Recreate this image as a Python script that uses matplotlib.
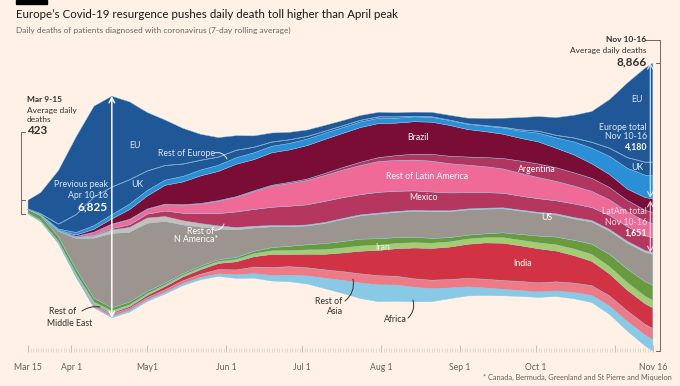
import numpy as np
import pandas as pd
import matplotlib.pyplot as plt
from matplotlib.patches import FancyArrowPatch

plt.rcParams['font.family'] = ['Lato', 'DejaVu Sans']

# weekly points (7-day rolling average of daily deaths)
dates = pd.DatetimeIndex(['2020-03-15']).append(
    pd.date_range('2020-03-20', '2020-11-13', freq='7D')).append(pd.DatetimeIndex(['2020-11-16']))

eu = [275, 650, 1650, 2400, 2800, 2800, 2400, 1800, 1400, 1100, 800, 600, 450, 350, 280, 230, 200, 180, 160,
      150, 140, 130, 130, 140, 150, 180, 220, 280, 380, 450, 550, 700, 950, 1500, 2300, 2900, 3050]
uk = [5, 25, 150, 550, 880, 850, 750, 600, 450, 380, 300, 250, 230, 170, 130, 110, 80, 60, 55,
      50, 45, 40, 15, 12, 10, 10, 12, 20, 40, 60, 75, 120, 180, 250, 330, 400, 420]
rest_europe = [5, 10, 40, 80, 110, 130, 170, 170, 160, 170, 180, 190, 200, 210, 200, 200, 200, 190, 180,
               170, 160, 150, 150, 150, 150, 160, 170, 190, 220, 270, 320, 400, 480, 560, 640, 690, 710]
brazil = [0, 1, 10, 40, 90, 160, 300, 400, 580, 700, 850, 900, 1000, 960, 1000, 1000, 1030, 1050, 1050,
          1070, 1050, 1000, 1000, 990, 950, 850, 800, 750, 700, 680, 600, 550, 450, 400, 350, 390, 420]
argentina = [0, 0, 1, 2, 5, 8, 8, 10, 12, 15, 18, 20, 20, 25, 30, 35, 45, 60, 80,
             100, 120, 150, 180, 210, 230, 250, 280, 320, 380, 420, 420, 410, 400, 380, 350, 340, 340]
rest_latam = [0, 2, 10, 40, 100, 130, 160, 150, 200, 250, 300, 380, 450, 550, 650, 700, 750, 800, 850,
              900, 950, 950, 950, 950, 900, 850, 800, 750, 700, 650, 600, 550, 500, 480, 460, 450, 445]
mexico = [0, 0, 2, 5, 20, 40, 80, 120, 170, 230, 300, 380, 480, 520, 560, 600, 620, 650, 640,
          620, 640, 620, 600, 580, 550, 500, 480, 450, 430, 420, 400, 420, 400, 430, 450, 450, 446]
rest_n_america = [0, 1, 5, 20, 60, 110, 150, 160, 150, 130, 110, 90, 70, 50, 40, 35, 30, 30, 30,
                  30, 28, 28, 28, 28, 28, 28, 28, 28, 30, 30, 35, 40, 45, 50, 55, 60, 65]
us = [5, 25, 170, 950, 1850, 2287, 2150, 2100, 1900, 1500, 1200, 950, 850, 720, 640, 600, 580, 620, 680,
      720, 760, 780, 800, 820, 800, 780, 760, 740, 720, 700, 680, 660, 680, 720, 800, 900, 950]
iran = [105, 140, 140, 140, 120, 95, 85, 70, 55, 50, 55, 55, 65, 75, 100, 130, 160, 190, 200,
        210, 200, 180, 170, 150, 130, 120, 120, 150, 180, 210, 240, 270, 320, 380, 420, 450, 460]
rest_middle_east = [8, 10, 30, 50, 60, 60, 55, 50, 50, 50, 55, 60, 70, 90, 110, 120, 130, 140, 150,
                    160, 160, 160, 160, 160, 160, 160, 160, 170, 170, 180, 190, 200, 210, 220, 230, 230, 230]
india = [0, 1, 3, 5, 25, 35, 50, 70, 100, 120, 140, 190, 250, 320, 400, 380, 420, 480, 580,
         700, 780, 850, 950, 980, 1000, 1050, 1120, 1150, 1100, 1050, 950, 850, 750, 680, 640, 640, 640]
rest_asia = [20, 20, 30, 40, 60, 80, 70, 70, 80, 90, 100, 130, 150, 200, 250, 260, 250, 260, 270,
             280, 280, 270, 260, 260, 260, 260, 270, 270, 280, 280, 280, 290, 300, 310, 320, 330, 345]
africa = [0, 3, 5, 10, 30, 40, 50, 50, 50, 60, 70, 80, 110, 140, 170, 200, 250, 320, 400,
          480, 520, 500, 450, 400, 330, 280, 230, 200, 180, 170, 170, 190, 220, 260, 300, 330, 345]

# bottom to top
series = [africa, rest_asia, india, rest_middle_east, iran, us, rest_n_america,
          mexico, rest_latam, argentina, brazil, rest_europe, uk, eu]
colors = ['#88c9e6', '#ee7a86', '#d23344', '#a6cd6a', '#6a9a3c', '#9c948f', '#cbbdb4',
          '#b5375f', '#f06a98', '#b0355f', '#7a0d36', '#2a8fd6', '#1f5797', '#1f5797']

tick_days = [0, 17, 47, 78, 108, 139, 170, 200, 246]
tick_labels = ['Mar 15', 'Apr 1', 'May1', 'Jun 1', 'Jul 1', 'Aug 1', 'Sep 1', 'Oct 1', 'Nov 16']

W, H = 680, 386
X0, PPD = 28, 2.54      # pixel of Mar 15, pixels per day
YC, DPP = 207, 30.8     # pixel of the stream centre, deaths per pixel

def dx(px):
    return (px - X0) / PPD

def dy(py):
    return (YC - py) * DPP

bg = '#fff1e5'
fig = plt.figure(figsize=(W / 100, H / 100), dpi=100, facecolor=bg)
ax = fig.add_axes([0, 0, 1, 1], facecolor=bg)

days = (dates - dates[0]).days.values.astype(float)
vals = np.array(series, dtype=float)
ax.stackplot(days, vals, colors=colors, baseline='sym', linewidth=0.3, edgecolors=colors)

total = vals.sum(axis=0)
top = total / 2
# thin line between EU and UK
ax.plot(days, top - np.array(eu), color='#7ea6d1', lw=0.6)

ax.set_xlim(dx(0), dx(W))
ax.set_ylim(dy(H), dy(0))

# x axis: daily ticks
ax.spines['bottom'].set_position(('data', dy(352)))
for s in ['top', 'left', 'right', 'bottom']:
    ax.spines[s].set_visible(False)
ax.yaxis.set_visible(False)
ax.set_xticks(tick_days + [231])
ax.set_xticklabels(tick_labels + [''])
ax.set_xticks(np.arange(0, 247), minor=True)
ax.tick_params(axis='x', which='major', direction='in', length=5, width=0.6, color='#bdb3aa',
               labelsize=6.2, labelcolor='#66605c', pad=8)
ax.tick_params(axis='x', which='minor', direction='in', length=3, width=0.4, color='#cfc6bd')

def arrow(x, y1, y2, color, lw=1.0):
    ax.add_patch(FancyArrowPatch((x, y1), (x, y2), arrowstyle='<->,head_length=0.4,head_width=0.22',
                                 mutation_scale=9, color=color, lw=lw, shrinkA=0, shrinkB=0, zorder=5))

# peak arrow (Apr 10-16): highest point of the first wave
peak = int(np.argmax(total[:15]))
arrow(days[peak], -top[peak], top[peak], 'white', 1.1)

# right arrows: Europe total and LatAm total
europe_total = eu[-1] + uk[-1] + rest_europe[-1]
latam_total = brazil[-1] + argentina[-1] + rest_latam[-1] + mexico[-1]
xa = days[-1] - 1.0
arrow(xa, top[-1] - europe_total + 30, top[-1], '#d5e8f7', 0.8)
y_la = top[-1] - europe_total - 60
arrow(xa, y_la - latam_total + 60, y_la, '#f7d3e0', 0.8)

# brackets
bc = '#6e6661'
xr = dx(660)
ax.plot([dx(645), xr, xr], [dy(40), dy(40), -top[-1]], color=bc, lw=0.7)
ax.plot([dx(656), xr], [top[-1], top[-1]], color=bc, lw=0.7)
ax.plot([dx(656), xr], [-top[-1], -top[-1]], color=bc, lw=0.7)
xl = dx(21)
ax.plot([dx(25), xl, xl, dx(25)], [dy(132), dy(132), -top[0], -top[0]], color=bc, lw=0.7)
ax.plot([xl, dx(25)], [top[0], top[0]], color=bc, lw=0.7)

def T(x, y, s, **kw):
    kw.setdefault('va', 'center')
    kw.setdefault('fontsize', 6.3)
    fig.text(x / W, 1 - y / H, s, **kw)

def leader(x1, y1, x2, y2, rad=0.3, color='white'):
    ax.annotate('', xy=(x2, H - y2), xytext=(x1, H - y1), xycoords='figure pixels',
                arrowprops=dict(arrowstyle='-', connectionstyle='arc3,rad=%s' % rad, color=color, lw=0.7,
                                shrinkA=0, shrinkB=0))

# header
fig.patches.append(plt.Rectangle((16 / W, 1 - 4 / H), 31 / W, 4 / H, transform=fig.transFigure,
                                 color='#000000'))
T(16, 15, "Europe\u2019s Covid-19 resurgence pushes daily death toll higher than April peak",
  fontsize=8.3, color='#1a1816')
T(16, 30, 'Daily deaths of patients diagnosed with coronavirus (7-day rolling average)',
  fontsize=6.0, color='#6b6560')

# left annotation
dark = '#33302e'
T(27, 100, 'Mar 9-15', fontweight='bold', color=dark, fontsize=6)
T(27, 110, 'Average daily', color=dark, fontsize=6)
T(27, 119, 'deaths', color=dark, fontsize=6)
T(27, 131, '423', fontweight='bold', color=dark, fontsize=8.5)

# peak annotation
T(108, 185, 'Previous peak', color='#dde9f5', ha='right')
T(108, 195, 'Apr 10-16', color='#dde9f5', ha='right')
T(108, 207, '6,825', color='white', ha='right', fontweight='bold', fontsize=8.5)

# right annotation
T(646, 40, 'Nov 10-16', fontweight='bold', color=dark, ha='right', fontsize=6)
T(647, 50, 'Average daily deaths', color=dark, ha='right', fontsize=6)
T(647, 62, '8,866', fontweight='bold', color=dark, ha='right', fontsize=8.5)
T(643, 100, 'EU', color='#dde9f5', ha='right')
T(647, 127, 'Europe total', color='#dde9f5', ha='right')
T(647, 137, 'Nov 10-16', color='#dde9f5', ha='right')
T(647, 147, '4,180', color='white', ha='right', fontweight='bold')
T(643, 168, 'UK', color='#dde9f5', ha='right')
T(647, 212, 'LatAm total', color='#f8dbe6', ha='right')
T(647, 222, 'Nov 10-16', color='#f8dbe6', ha='right')
T(647, 233, '1,651', color='white', ha='right', fontweight='bold')

# band labels
lc = '#dde9f5'
T(135, 145, 'EU', color=lc, ha='center')
T(137, 185, 'UK', color=lc, ha='center')
T(186, 153, 'Rest of Europe', color=lc, ha='center')
leader(214, 153, 227, 159, rad=-0.4, color=lc)
T(418, 138, 'Brazil', color='white', ha='center')
T(427, 176, 'Rest of Latin America', color='white', ha='center')
T(423, 197, 'Mexico', color='white', ha='center')
T(537, 170, 'Argentina', color='white', ha='center')
T(547, 218, 'US', color='white', ha='center')
T(383, 248, 'Iran', color='#eef6e0', ha='center')
T(523, 263, 'India', color='white', ha='center')
T(201, 231, 'Rest of', color='white', ha='center')
T(196, 240, 'N America*', color='white', ha='center')
leader(214, 230, 224, 224, rad=0.4)
T(63, 312, 'Rest of', color=dark, ha='center')
T(70, 324, 'Middle East', color=dark, ha='center')
leader(82, 311, 100, 307, rad=-0.2, color=dark)
T(329, 302, 'Rest of', color=dark, ha='center')
T(335, 312, 'Asia', color=dark, ha='center')
leader(345, 301, 353, 279, rad=0.3, color=dark)
T(395, 320, 'Africa', color=dark, ha='center')
leader(408, 318, 413, 300, rad=0.3, color=dark)

# footnote
T(672, 377, '* Canada, Bermuda, Greenland and St Pierre and Miquelon', color='#66605c', ha='right', fontsize=5.3)

fig.savefig('out.png', dpi=100, facecolor=bg)
